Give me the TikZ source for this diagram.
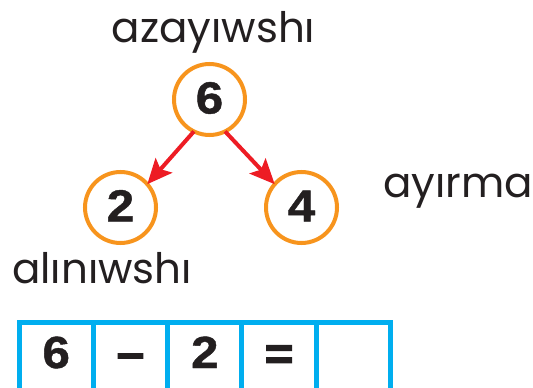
\documentclass[tikz,border=0pt]{standalone}
\usepackage{fontspec}
\setmainfont{Poppins}
\newfontfamily\numfont[FakeStretch=1.1,FakeBold=1]{Liberation Sans Bold}
\newfontfamily\opfont[FakeStretch=1.1,FakeBold=3]{Liberation Sans Bold}
\usetikzlibrary{arrows.meta}
\definecolor{ringorange}{HTML}{F7941D}
\definecolor{arrowred}{HTML}{ED1C24}
\definecolor{cellblue}{HTML}{00AEEF}
\definecolor{inkdark}{HTML}{231F20}
\tikzset{
  ring/.style={circle, draw=ringorange, line width=4pt, minimum size=71pt, inner sep=0pt, outer sep=0pt},
  num/.style={text=inkdark, inner sep=0pt, font=\numfont\fontsize{45}{45}\selectfont},
  opsign/.style={text=inkdark, inner sep=0pt, font=\opfont\fontsize{45}{45}\selectfont},
  lbl/.style={text=inkdark, inner sep=0pt, font=\fontsize{42}{42}\selectfont},
  arr/.style={draw=arrowred, line width=4pt, -{Stealth[length=25pt,width=22pt,inset=5pt]}},
  cell/.style={rectangle, draw=cellblue, line width=5pt, minimum width=74.3pt, minimum height=90pt, inner sep=0pt, outer sep=0pt}
}
\begin{document}
\begin{tikzpicture}[x=1pt,y=-1pt]
\useasboundingbox (0,0) rectangle (533,388);
\clip (0,0) rectangle (533,388);
% circles
\node[ring] (top) at (209.5,99.5) {};
\node[ring] (left) at (120.5,207.5) {};
\node[ring] (right) at (301.5,207.5) {};
\node[num, anchor=base] (ntop) at (209.5,113.5) {6};
\node[num, anchor=base] (nleft) at (120.5,221.5) {2};
\node[num, anchor=base] (nright) at (301.5,221.5) {4};
% arrows
\draw[arr] (top.244) -- (left.41);
\draw[arr] (top.296) -- (right.139);
% labels
\node[lbl, anchor=base] (lsum) at (213.5,42) {azayıwshı};
\node[lbl, anchor=base west] (lsub) at (12,283) {alınıwshı};
\node[lbl, anchor=base west] (ldiff) at (383,197) {ayırma};
% cells
\node[cell, anchor=north west] (c1) at (19,322.5) {};
\node[cell, anchor=north west] (c2) at (93.3,322.5) {};
\node[cell, anchor=north west] (c3) at (167.6,322.5) {};
\node[cell, anchor=north west] (c4) at (241.9,322.5) {};
\node[cell, anchor=north west] (c5) at (316.2,322.5) {};
\node[num, anchor=base] (e1) at (56.2,368) {6};
\node[opsign, anchor=base] (e2) at (130.5,368) {–};
\node[num, anchor=base] (e3) at (204.8,368) {2};
\node[opsign, anchor=base] (e4) at (279.1,369) {=};
\end{tikzpicture}
\end{document}
